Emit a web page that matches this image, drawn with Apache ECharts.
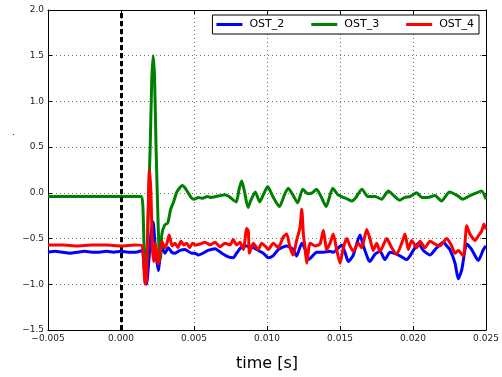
<!DOCTYPE html>
<html>
<head>
<meta charset="utf-8">
<script src="https://cdn.jsdelivr.net/npm/echarts@6/dist/echarts.min.js"></script>
<style>html,body{margin:0;padding:0;background:#fff}#c{width:502px;height:377px}</style>
</head>
<body>
<div id="c"></div>
<script>
// times in milliseconds (converted to seconds when plotted)
var ost2T = [-5,-4.5,-4,-3.5,-3,-2.5,-2,-1.5,-1,-0.5,0,0.5,1,1.45,1.6,1.75,1.9,2.05,2.2,2.35,2.55,2.79,3.01,3.24,3.47,3.7,4.04,4.38,4.84,5.07,5.29,5.62,5.96,6.44,6.9,7.35,7.69,7.92,8.27,8.61,8.95,9.29,9.75,10.09,10.41,10.77,11.12,11.35,11.8,12.03,12.38,12.6,12.83,13.06,13.4,13.86,14.32,14.54,14.77,15.12,15.34,15.57,15.91,16.37,16.6,16.94,17.05,17.4,17.74,18.08,18.42,18.88,19.23,19.57,20.02,20.36,20.71,21.16,21.62,22.08,22.31,22.53,22.88,23.1,23.34,23.68,24.02,24.47,24.82,25];
var ost2V = [-0.65,-0.64,-0.65,-0.66,-0.65,-0.64,-0.65,-0.65,-0.64,-0.65,-0.64,-0.65,-0.65,-0.63,-0.85,-1.0,-0.75,-0.45,-0.32,-0.6,-0.85,-0.59,-0.66,-0.6,-0.65,-0.66,-0.63,-0.62,-0.66,-0.66,-0.68,-0.66,-0.63,-0.61,-0.66,-0.7,-0.71,-0.66,-0.59,-0.58,-0.59,-0.62,-0.66,-0.71,-0.69,-0.62,-0.59,-0.58,-0.62,-0.69,-0.55,-0.61,-0.73,-0.7,-0.65,-0.65,-0.64,-0.65,-0.62,-0.57,-0.65,-0.75,-0.68,-0.46,-0.58,-0.73,-0.75,-0.67,-0.64,-0.73,-0.65,-0.67,-0.7,-0.73,-0.63,-0.55,-0.63,-0.68,-0.6,-0.54,-0.58,-0.62,-0.77,-0.94,-0.84,-0.56,-0.62,-0.74,-0.62,-0.58];

var ost3T = [-5,-4,-3,-2,-1,0,1,1.4,1.5,1.6,1.7,1.8,1.9,2.0,2.1,2.2,2.3,2.4,2.5,2.6,2.7,2.8,3.0,3.2,3.4,3.6,3.8,4.0,4.2,4.4,4.6,4.8,5.0,5.3,5.6,5.9,6.2,6.5,6.8,7.1,7.4,7.7,7.9,8.1,8.27,8.45,8.7,8.9,9.2,9.5,9.75,10.05,10.4,10.85,11.2,11.45,11.8,12.1,12.45,12.8,13.1,13.4,13.7,14.05,14.5,14.85,15.1,15.55,15.8,16.05,16.5,16.9,17.4,17.85,18.3,18.75,19.1,19.45,19.8,20.25,20.6,21.0,21.5,21.95,22.5,23.05,23.4,23.9,24.35,24.7,25];
var ost3V = [-0.04,-0.04,-0.04,-0.04,-0.04,-0.04,-0.04,-0.04,-0.15,-0.7,-0.97,-0.6,0.0,0.5,1.2,1.5,1.25,0.5,-0.1,-0.6,-0.72,-0.45,-0.35,-0.33,-0.18,-0.1,0.0,0.05,0.08,0.05,0.0,-0.05,-0.07,-0.05,-0.06,-0.04,-0.05,-0.04,-0.03,-0.02,-0.04,-0.08,-0.1,0.05,0.13,0.02,-0.16,-0.08,0.01,-0.1,-0.02,0.07,-0.04,-0.15,-0.02,0.05,-0.03,-0.11,0.04,-0.01,0.0,0.04,-0.04,-0.15,0.05,-0.02,-0.04,-0.07,-0.09,-0.06,0.04,-0.04,-0.04,-0.07,0.02,-0.04,-0.08,-0.05,-0.04,0.0,-0.05,-0.05,-0.03,-0.09,0.01,-0.03,-0.07,-0.03,0.0,0.02,-0.07];

var ost4T = [-5,-4,-3,-2,-1,0,1,1.45,1.55,1.65,1.75,1.85,1.95,2.05,2.15,2.25,2.35,2.45,2.55,2.65,2.8,3.0,3.15,3.3,3.5,3.7,3.9,4.1,4.3,4.5,4.7,4.9,5.1,5.41,5.75,6.1,6.44,6.78,7.12,7.47,7.69,7.92,8.15,8.38,8.61,8.72,8.8,9.06,9.4,9.64,9.86,10.09,10.43,10.77,11.12,11.35,11.58,11.8,12.03,12.26,12.38,12.49,12.6,12.72,12.95,13.29,13.63,13.86,14.09,14.32,14.54,14.77,15.0,15.23,15.46,15.68,15.91,16.25,16.49,16.83,17.05,17.28,17.51,17.74,17.97,18.2,18.54,18.88,19.23,19.45,19.68,19.91,20.25,20.48,20.82,21.16,21.62,21.85,22.31,22.65,22.88,23.1,23.45,23.68,23.9,24.25,24.47,24.7,24.86,25];
var ost4V = [-0.57,-0.57,-0.58,-0.57,-0.57,-0.58,-0.57,-0.58,-0.75,-1.0,-0.95,-0.3,0.25,0.0,-0.6,-0.75,-0.55,-0.65,-0.78,-0.7,-0.53,-0.6,-0.55,-0.46,-0.58,-0.55,-0.6,-0.53,-0.57,-0.55,-0.6,-0.55,-0.57,-0.56,-0.54,-0.57,-0.54,-0.59,-0.55,-0.57,-0.51,-0.57,-0.54,-0.62,-0.39,-0.42,-0.66,-0.55,-0.62,-0.55,-0.58,-0.62,-0.55,-0.6,-0.48,-0.45,-0.6,-0.68,-0.52,-0.38,-0.18,-0.45,-0.6,-0.77,-0.55,-0.58,-0.56,-0.41,-0.62,-0.55,-0.45,-0.62,-0.77,-0.6,-0.5,-0.58,-0.64,-0.55,-0.6,-0.4,-0.5,-0.63,-0.55,-0.64,-0.57,-0.5,-0.6,-0.67,-0.55,-0.45,-0.62,-0.52,-0.6,-0.53,-0.6,-0.53,-0.57,-0.58,-0.5,-0.58,-0.66,-0.63,-0.69,-0.36,-0.45,-0.52,-0.47,-0.42,-0.34,-0.4];

var seriesNames = ['OST_2','OST_3','OST_4'];
var seriesColors = ['#0000ff','#008000','#ff0000'];
var xTicks = {min:-0.005, max:0.025, interval:0.005};
var yTicks = {min:-1.5, max:2.0, interval:0.5};
var xLabel = 'time [s]';
var eventTime = 0;

function pairs(t, v){ return t.map(function(x,i){ return [x/1000, v[i]]; }); }
function minus(s){ return s.replace('-', '\u2212'); }

var font = 'DejaVu Sans';
var chart = echarts.init(document.getElementById('c'), null, {renderer:'canvas'});
var gridLine = {show:true, lineStyle:{color:'#000', type:[1,3], width:1, opacity:0.55}};
var frame = {show:true, onZero:false, lineStyle:{color:'#000', width:1}};
chart.setOption({
  animation:false,
  backgroundColor:'#fff',
  grid:{left:48, right:16, top:10, bottom:38},
  legend:{
    data:seriesNames, right:23, top:15, orient:'horizontal',
    backgroundColor:'#fff', borderColor:'#000', borderWidth:1, borderRadius:0,
    padding:[4,5,4,4], itemGap:27, itemWidth:26, itemHeight:3, icon:'rect',
    textStyle:{fontFamily:font, fontSize:11, color:'#000', padding:[0,0,0,2]}
  },
  xAxis:[{
    type:'value', min:xTicks.min, max:xTicks.max, interval:xTicks.interval,
    axisLine:frame, axisTick:{show:true, inside:true, length:4, lineStyle:{color:'#000'}},
    splitLine:gridLine,
    axisLabel:{fontFamily:font, fontSize:9, color:'#222', margin:4, formatter:function(v){return minus(v.toFixed(3));}},
    name:xLabel, nameLocation:'middle', nameGap:26,
    nameTextStyle:{fontFamily:font, fontSize:16, color:'#000'}
  },{
    type:'value', position:'top', min:xTicks.min, max:xTicks.max, interval:xTicks.interval,
    axisLine:frame, axisTick:{show:true, inside:true, length:4, lineStyle:{color:'#000'}},
    axisLabel:{show:false}, splitLine:{show:false}
  }],
  yAxis:[{
    type:'value', min:yTicks.min, max:yTicks.max, interval:yTicks.interval,
    axisLine:frame, axisTick:{show:true, inside:true, length:4, lineStyle:{color:'#000'}},
    splitLine:gridLine,
    axisLabel:{fontFamily:font, fontSize:9, color:'#222', margin:4, formatter:function(v){return minus(v.toFixed(1));}}
  },{
    type:'value', position:'right', min:yTicks.min, max:yTicks.max, interval:yTicks.interval,
    axisLine:frame, axisTick:{show:true, inside:true, length:4, lineStyle:{color:'#000'}},
    axisLabel:{show:false}, splitLine:{show:false}
  }],
  graphic:[{type:'text', left:12, top:128, style:{text:'.', font:'9px DejaVu Sans', fill:'#222'}}],
  series:[
    {name:seriesNames[0], type:'line', data:pairs(ost2T, ost2V), showSymbol:false, smooth:0.2, color:seriesColors[0], lineStyle:{width:3}, z:3},
    {name:seriesNames[1], type:'line', data:pairs(ost3T, ost3V), showSymbol:false, smooth:0.2, color:seriesColors[1], lineStyle:{width:3}, z:4},
    {name:seriesNames[2], type:'line', data:pairs(ost4T, ost4V), showSymbol:false, smooth:0.2, color:seriesColors[2], lineStyle:{width:3}, z:5},
    {type:'line', data:[], z:10, silent:true,
     markLine:{silent:true, symbol:'none', label:{show:false},
       lineStyle:{color:'#000', width:3, type:[5,3]}, data:[{xAxis:eventTime}]}}
  ]
});
</script>
</body>
</html>
